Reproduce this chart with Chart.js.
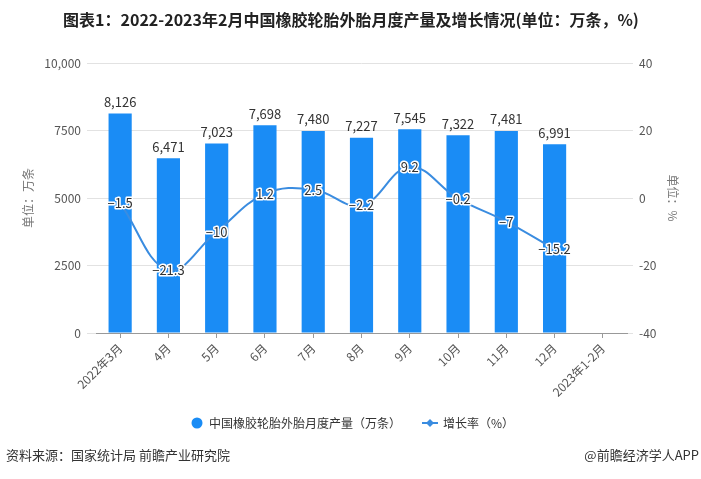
<!DOCTYPE html>
<html>
<head>
<meta charset="utf-8">
<script src="https://cdn.jsdelivr.net/npm/chart.js@4.4.1/dist/chart.umd.min.js"></script>
<style>
  html, body { margin: 0; padding: 0; background: #fff; }
  #wrap { width: 701px; height: 479px; position: relative; }
</style>
</head>
<body>
<div id="wrap"><canvas id="tyre-chart"></canvas></div>
<script>
// Datos

let months = ["2022年3月", "4月", "5月", "6月", "7月", "8月", "9月", "10月", "11月", "12月", "2023年1-2月"];
let output = [8126, 6471, 7023, 7698, 7480, 7227, 7545, 7322, 7481, 6991, null];
let growth = [-1.5, -21.3, -10, 1.2, 2.5, -2.2, 9.2, -0.2, -7, -15.2, null];
let leftTicks = [0, 2500, 5000, 7500, 10000];
let rightTicks = [-40, -20, 0, 20, 40];

let barColor = "#1a8cf5";
let lineColor = "#3a8ce0";
let font = "'Noto Sans CJK SC', 'Noto Sans', sans-serif";

// Etiquetas de barras y linea

let valueLabels = {
  id: "valueLabels",
  afterDatasetsDraw(chart) {
    let ctx = chart.ctx;
    ctx.save();
    ctx.font = `13px ${font}`;
    ctx.textAlign = "center";

    let bars = chart.getDatasetMeta(0).data;
    ctx.fillStyle = "#333";
    ctx.textBaseline = "bottom";
    bars.forEach((bar, i) => {
      if (output[i] == null) return;
      ctx.fillText(output[i].toLocaleString("en-US"), bar.x, bar.y - 5);
    });

    let points = chart.getDatasetMeta(1).data;
    ctx.textBaseline = "middle";
    ctx.lineJoin = "round";
    points.forEach((pt, i) => {
      if (growth[i] == null) return;
      let txt = String(growth[i]).replace("-", "\u2212");
      ctx.strokeStyle = "#fff";
      ctx.lineWidth = 3;
      ctx.strokeText(txt, pt.x, pt.y);
      ctx.fillStyle = "#333";
      ctx.fillText(txt, pt.x, pt.y);
    });
    ctx.restore();
  },
};

// Titulo, ejes, leyenda y fuente

let decor = {
  id: "decor",
  afterDraw(chart) {
    let ctx = chart.ctx;
    ctx.save();

    ctx.fillStyle = "#222";
    ctx.font = `bold 16px ${font}`;
    ctx.textAlign = "center";
    ctx.textBaseline = "middle";
    ctx.fillText("图表1：2022-2023年2月中国橡胶轮胎外胎月度产量及增长情况(单位：万条，%)", 351, 20);

    ctx.fillStyle = "#777";
    ctx.font = `12px ${font}`;
    ctx.save();
    ctx.translate(28, 198);
    ctx.rotate(-Math.PI / 2);
    ctx.fillText("单位：万条", 0, 0);
    ctx.restore();
    ctx.save();
    ctx.translate(673, 198);
    ctx.rotate(Math.PI / 2);
    ctx.fillText("单位：%", 0, 0);
    ctx.restore();

    // leyenda
    ctx.fillStyle = barColor;
    ctx.beginPath();
    ctx.arc(197, 423, 5.5, 0, Math.PI * 2);
    ctx.fill();
    ctx.strokeStyle = lineColor;
    ctx.lineWidth = 2;
    ctx.beginPath();
    ctx.moveTo(422, 423);
    ctx.lineTo(438, 423);
    ctx.stroke();
    ctx.fillStyle = lineColor;
    ctx.beginPath();
    ctx.moveTo(430, 419);
    ctx.lineTo(434, 423);
    ctx.lineTo(430, 427);
    ctx.lineTo(426, 423);
    ctx.closePath();
    ctx.fill();

    ctx.fillStyle = "#333";
    ctx.font = `12px ${font}`;
    ctx.textAlign = "left";
    ctx.fillText("中国橡胶轮胎外胎月度产量（万条）", 209, 423);
    ctx.fillText("增长率（%）", 443, 423);

    ctx.font = `13px ${font}`;
    ctx.fillText("资料来源：国家统计局 前瞻产业研究院", 6, 455);
    ctx.textAlign = "right";
    ctx.fillText("@前瞻经济学人APP", 699, 455);

    ctx.restore();
  },
};

// Grafico

new Chart(document.getElementById("tyre-chart"), {
  data: {
    labels: months,
    datasets: [
      {
        type: "bar",
        label: "中国橡胶轮胎外胎月度产量（万条）",
        data: output,
        backgroundColor: barColor,
        barPercentage: 0.96,
        categoryPercentage: 0.5,
        yAxisID: "y",
        order: 1,
      },
      {
        type: "line",
        label: "增长率（%）",
        data: growth,
        borderColor: lineColor,
        borderWidth: 2,
        pointRadius: 0,
        tension: 0.4,
        yAxisID: "y1",
        order: 0,
      },
    ],
  },
  options: {
    responsive: true,
    maintainAspectRatio: false,
    animation: false,
    layout: { padding: { top: 63, right: 0, bottom: 66, left: 0 } },
    plugins: {
      legend: { display: false },
      tooltip: { enabled: false },
    },
    scales: {
      x: {
        offset: true,
        grid: { offset: false, drawOnChartArea: false, tickLength: 5, color: "#999" },
        border: { color: "#999" },
        ticks: {
          minRotation: 45,
          maxRotation: 45,
          color: "#555",
          font: { size: 12, family: font },
        },
        afterFit: (scale) => { scale.height = 80; },
      },
      y: {
        position: "left",
        min: 0,
        max: 10000,
        afterBuildTicks: (scale) => { scale.ticks = leftTicks.map((v) => ({ value: v })); },
        grid: { color: "#e2e2e2", tickLength: 9 },
        border: { display: false },
        ticks: {
          padding: 6,
          color: "#555",
          font: { size: 12, family: font },
          callback: (v) => (v >= 10000 ? v.toLocaleString("en-US") : v),
        },
        afterFit: (scale) => { scale.width = 96; },
      },
      y1: {
        position: "right",
        min: -40,
        max: 40,
        afterBuildTicks: (scale) => { scale.ticks = rightTicks.map((v) => ({ value: v })); },
        grid: { drawOnChartArea: false, color: "#e2e2e2", tickLength: 6 },
        border: { display: false },
        ticks: {
          padding: 6,
          color: "#555",
          font: { size: 12, family: font },
        },
        afterFit: (scale) => { scale.width = 74; },
      },
    },
  },
  plugins: [valueLabels, decor],
});
</script>
</body>
</html>
